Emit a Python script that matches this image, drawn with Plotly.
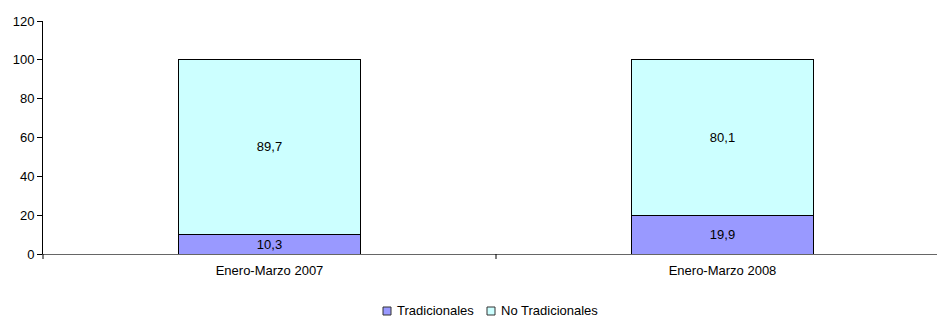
import plotly.graph_objects as go

categories = ["Enero-Marzo 2007", "Enero-Marzo 2008"]
tradicionales = [10.3, 19.9]
no_tradicionales = [89.7, 80.1]
y_ticks = [0, 20, 40, 60, 80, 100, 120]

series = [
    ("Tradicionales", tradicionales, "#9999FF"),
    ("No Tradicionales", no_tradicionales, "#CCFFFF"),
]

FONT = "Liberation Sans, Arial"
FS = 13

# plot area geometry (pixels)
L, T, W, H = 43, 21, 894, 233

def fmt(v):
    return f"{v:.1f}".replace(".", ",")

xpos = list(range(len(categories)))

fig = go.Figure()
for name, vals, color in series:
    fig.add_trace(go.Bar(
        x=xpos, y=vals, name=name, showlegend=False,
        marker=dict(color=color, line=dict(color="black", width=1)),
        text=[fmt(v) for v in vals], textposition="inside",
        insidetextanchor="middle", textangle=0,
        textfont=dict(family=FONT, size=FS, color="black"),
        width=0.4,
    ))

fig.update_layout(
    barmode="stack",
    width=937, height=319,
    margin=dict(l=L, r=937 - L - W, t=T, b=319 - T - H),
    paper_bgcolor="white", plot_bgcolor="white",
    font=dict(family=FONT, size=FS, color="black"),
    uniformtext=dict(minsize=FS, mode="show"),
    showlegend=False,
)
fig.update_xaxes(
    range=[-0.5, -0.5 + W / 453], tickvals=xpos, ticktext=categories,
    showline=True, linecolor="#666666", linewidth=1, ticks="",
    showgrid=False, zeroline=False, automargin=False,
    tickfont=dict(size=FS), ticklabelstandoff=4,
)
fig.update_yaxes(
    range=[0, 120], tickvals=y_ticks, ticks="outside", ticklen=5,
    tickcolor="black", showline=True, linecolor="black", linewidth=1,
    showgrid=False, zeroline=False, automargin=False,
    tickfont=dict(size=FS),
)
fig.add_shape(type="line", xref="x", yref="paper", x0=0.5, x1=0.5,
              y0=0, y1=-5 / H, line=dict(color="black", width=1))
fig.add_shape(type="line", xref="paper", yref="paper", x0=0, x1=0,
              y0=0, y1=-5 / H, line=dict(color="black", width=1))

# legend drawn manually (small squares next to text, as in the reference)
leg_cy = 310
leg_items_x = [383, 487]
for (name, vals, color), sx in zip(series, leg_items_x):
    fig.add_shape(
        type="rect", xref="paper", yref="paper",
        x0=(sx - L) / W, x1=(sx + 8 - L) / W,
        y0=-(leg_cy + 5 - T - H) / H, y1=-(leg_cy - 3 - T - H) / H,
        fillcolor=color, line=dict(color="#333333", width=1),
    )
    fig.add_annotation(
        text=name, xref="paper", yref="paper",
        x=(sx + 13 - L) / W, y=-(leg_cy - T - H) / H,
        xanchor="left", yanchor="middle", showarrow=False, borderpad=0,
        font=dict(family=FONT, size=FS, color="black"),
    )

fig.write_html(
    "out.html",
    config={"displayModeBar": False},
    post_script="document.body.style.margin='0';document.body.style.overflow='hidden';",
)
